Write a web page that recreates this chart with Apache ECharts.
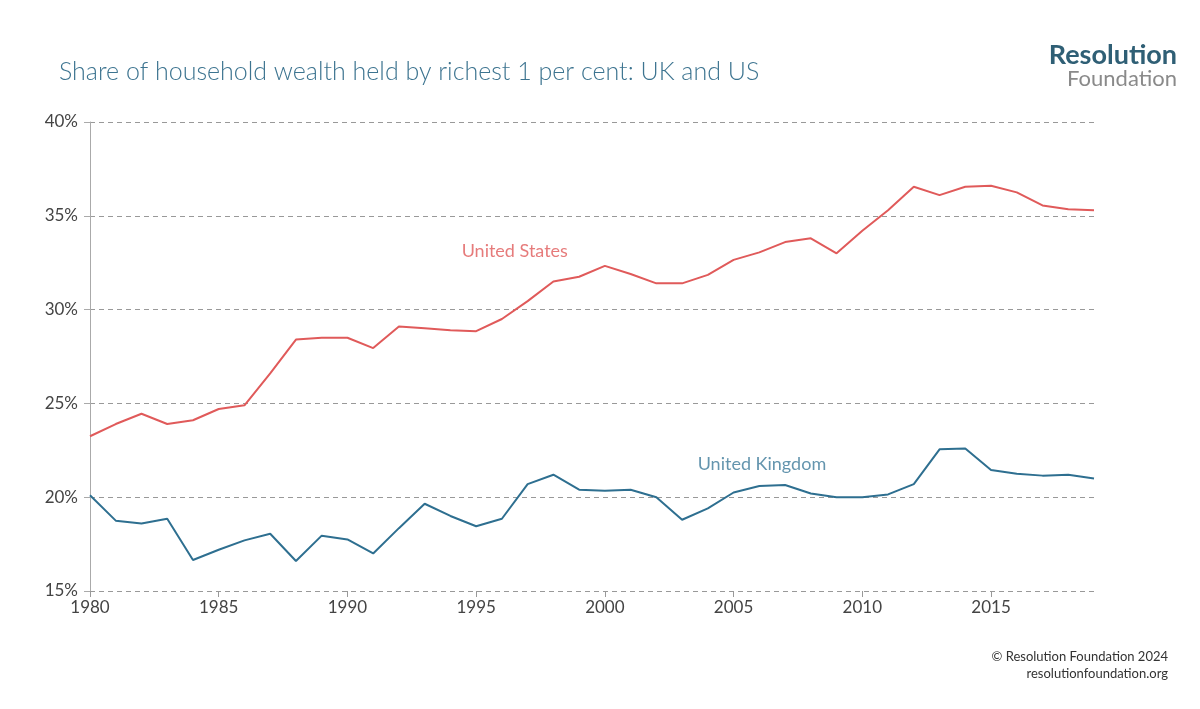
<!DOCTYPE html>
<html><head><meta charset="utf-8">
<script src="https://cdn.jsdelivr.net/npm/echarts@6/dist/echarts.min.js"></script>
<style>body{margin:0;background:#fff}#c{width:1200px;height:709px}</style>
</head><body><div id="c"></div>
<script>
const years = [];
for (let y = 1980; y <= 2019; y++) years.push(y);
const usValues = [23.25,23.9,24.45,23.9,24.1,24.7,24.9,26.6,28.4,28.5,28.5,27.95,29.1,29.0,28.9,28.85,29.5,30.45,31.5,31.75,32.33,31.9,31.4,31.4,31.85,32.65,33.05,33.6,33.8,33.0,34.2,35.3,36.55,36.1,36.55,36.6,36.25,35.55,35.35,35.3];
const ukValues = [20.1,18.75,18.6,18.85,16.65,17.2,17.7,18.05,16.6,17.95,17.75,17.0,18.35,19.65,19.0,18.45,18.85,20.7,21.2,20.4,20.35,20.4,20.0,18.8,19.4,20.25,20.6,20.65,20.2,20.0,20.0,20.15,20.7,22.55,22.6,21.45,21.25,21.15,21.2,21.0];
const seriesLabels = [['United States',1996.5,33.1],['United Kingdom',2006.1,21.75]];
const usColor = '#e05a5a', ukColor = '#2e6f90';
const font = 'Lato, "Noto Sans", sans-serif';
const chart = echarts.init(document.getElementById('c'));
function lbl(i,color){
  return {type:'scatter',symbolSize:0,silent:true,data:[[seriesLabels[i][1],seriesLabels[i][2]]],
    label:{show:true,position:'inside',formatter:seriesLabels[i][0],color:color,fontSize:18,fontFamily:font}};
}
chart.setOption({
  animation:false,
  textStyle:{fontFamily:font},
  grid:{left:90,right:106,top:122,bottom:118},
  title:{text:'Share of household wealth held by richest 1 per cent: UK and US',left:54,top:54,
    textStyle:{color:'#3d7490',fontSize:25,fontWeight:300,fontFamily:font}},
  graphic:[
    {type:'text',right:23,top:42,style:{text:'Resolution',fill:'#2f5f75',font:'bold 27px '+font,textAlign:'right'}},
    {type:'text',right:23,top:68,style:{text:'Foundation',fill:'#8a8a8a',font:'22px '+font,textAlign:'right'}},
    {type:'text',right:32,top:650,style:{text:'© Resolution Foundation 2024',fill:'#333',font:'13px '+font}},
    {type:'text',right:32,top:667,style:{text:'resolutionfoundation.org',fill:'#333',font:'13px '+font}}
  ],
  xAxis:{type:'value',min:1980,max:2019,interval:5,
    axisLine:{show:false},axisTick:{show:true,length:6,lineStyle:{color:'#999'}},
    splitLine:{show:false},
    axisLabel:{color:'#444',fontSize:17,margin:8,showMaxLabel:false,formatter:v=>String(v)}},
  yAxis:{type:'value',min:15,max:40,interval:5,
    axisLine:{show:true,lineStyle:{color:'#aaa'}},axisTick:{show:true,length:6,lineStyle:{color:'#aaa'}},
    splitLine:{lineStyle:{type:[5,4],color:'#999'}},
    axisLabel:{color:'#444',fontSize:17,formatter:'{value}%',margin:12}},
  series:[
    {name:'United States',type:'line',data:years.map((y,i)=>[y,usValues[i]]),showSymbol:false,
      lineStyle:{color:usColor,width:2},itemStyle:{color:usColor}},
    {name:'United Kingdom',type:'line',data:years.map((y,i)=>[y,ukValues[i]]),showSymbol:false,
      lineStyle:{color:ukColor,width:2},itemStyle:{color:ukColor}},
    lbl(0,usColor), lbl(1,'#3d7a9a')
  ]
});
</script></body></html>
